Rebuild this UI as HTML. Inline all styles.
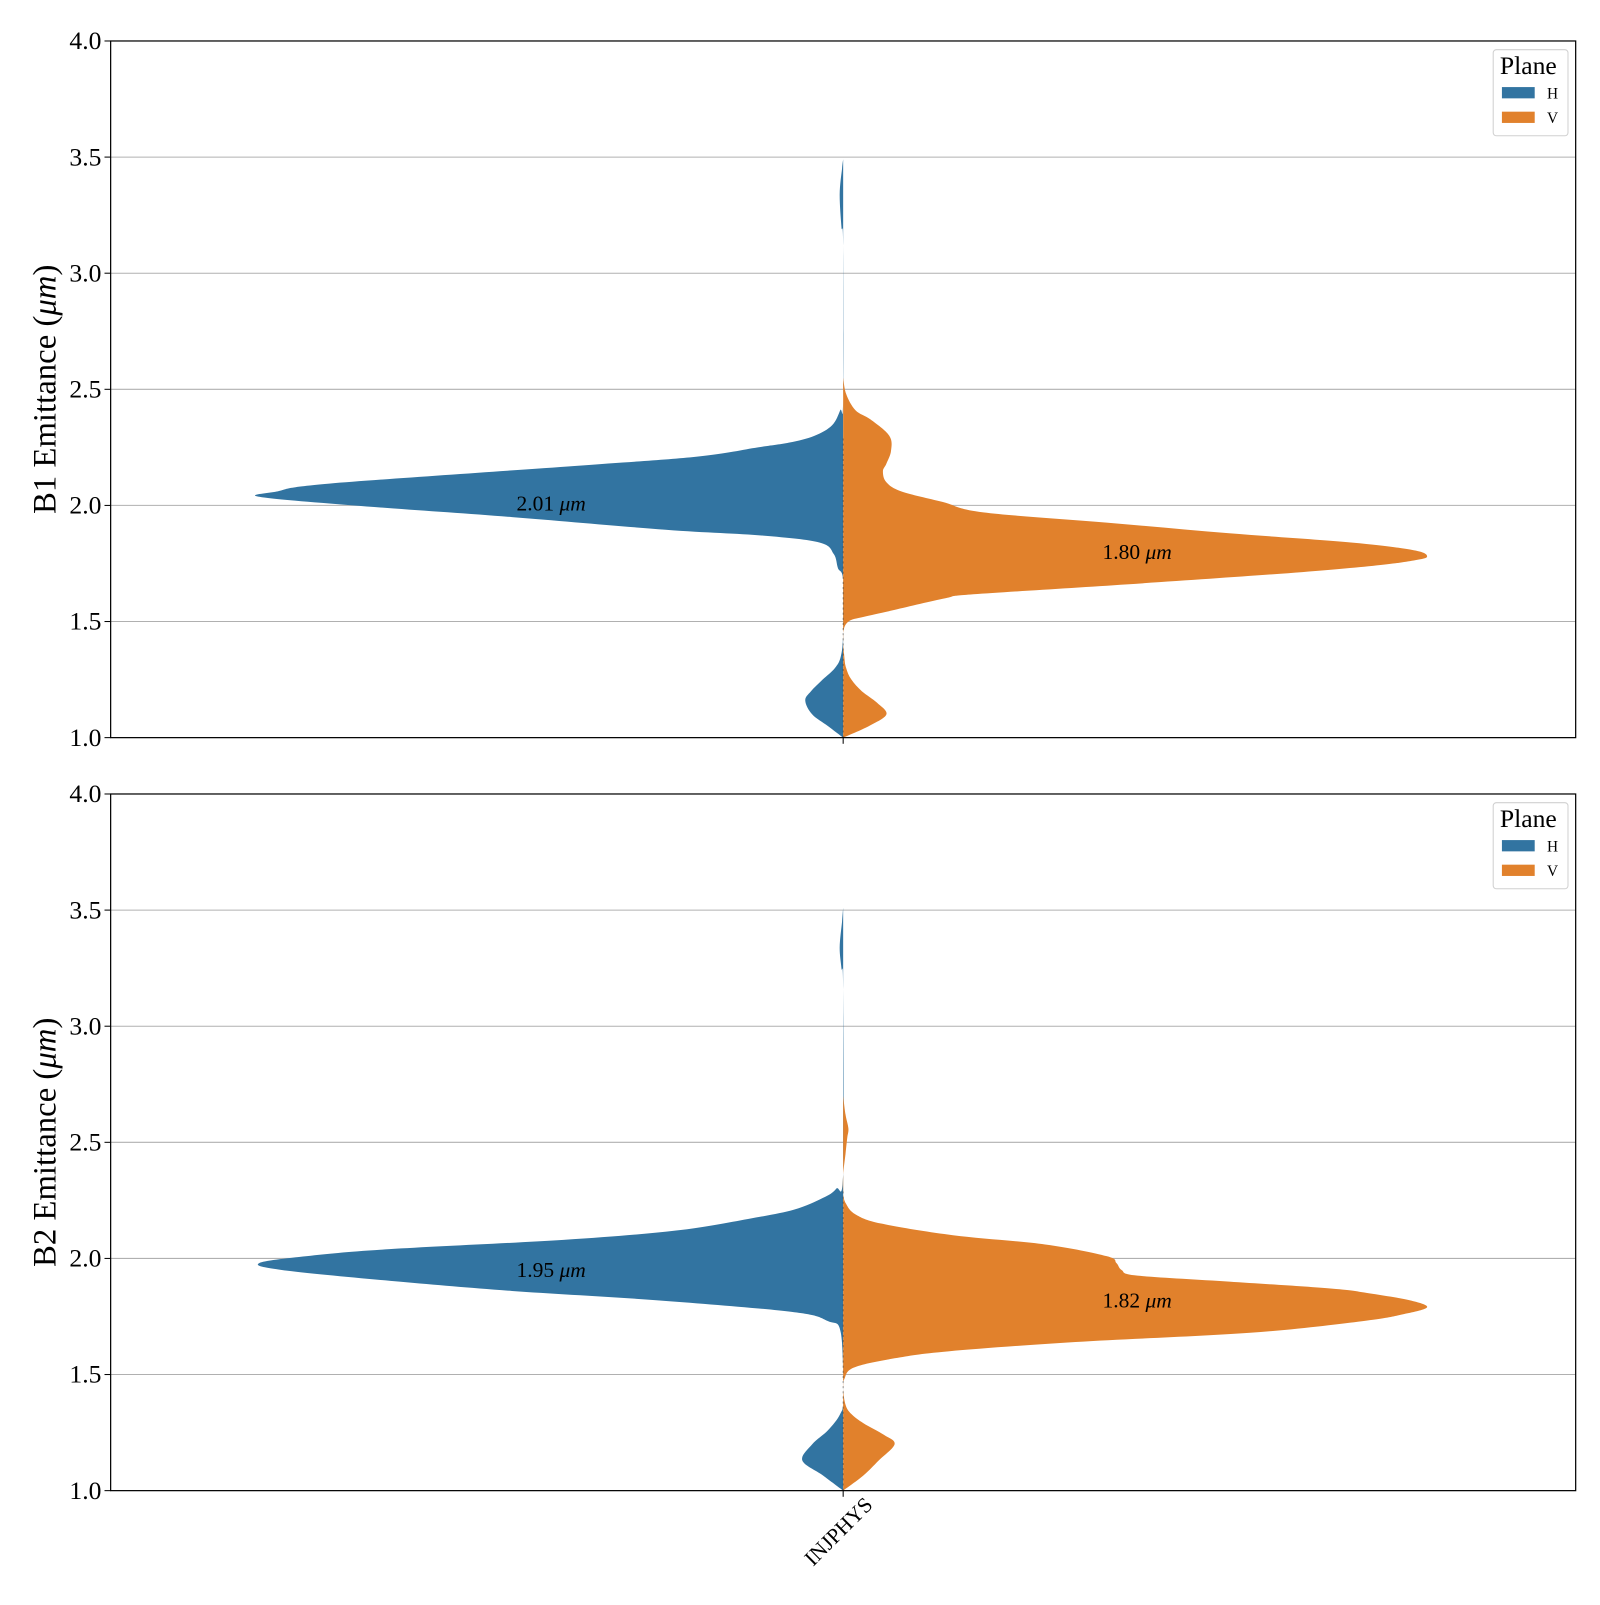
<!DOCTYPE html>
<html><head><meta charset="utf-8"><style>
body{margin:0;background:#fff}
svg text{font-family:"Liberation Serif","DejaVu Serif",serif}
</style></head><body>
<svg id="chart" width="1600" height="1600" viewBox="0 0 1600 1600" xmlns="http://www.w3.org/2000/svg"><g id="root" transform="scale(1.0245)"></g></svg>
<script>
// ---- data ----
const yTicks = [1.0, 1.5, 2.0, 2.5, 3.0, 3.5, 4.0];
const categories = ["INJPHYS"];
const panelNames = ["B1", "B2"];
const medianLabels = [["2.01", "1.80"], ["1.95", "1.82"]];
const medianValues = [[2.01, 1.80], [1.95, 1.82]];
// density profiles (value, relative density 0..100)
const b1H_y = [1.0,1.05,1.1,1.16,1.2,1.25,1.3,1.35,1.45,1.68,1.73,1.79,1.84,1.87,1.895,1.95,2.0,2.037,2.06,2.094,2.17,2.21,2.25,2.27,2.30,2.345,2.41,2.455,3.12,3.2,3.34,3.45,3.49];
const b1H_d = [0,2.6,5.3,6.5,5.5,3.5,1.4,0.4,0,0,0.9,1.6,4,13.7,30.4,56.7,84,100,97,88,46,25,14.6,9.3,4.9,1.9,0.5,0,0,0.3,0.6,0.2,0];
const b1V_y = [1.0,1.05,1.1,1.15,1.2,1.25,1.3,1.35,1.45,1.5,1.52,1.55,1.6,1.617,1.66,1.706,1.74,1.763,1.78,1.807,1.84,1.88,1.926,1.97,2.015,2.06,2.10,2.147,2.18,2.235,2.30,2.37,2.41,2.48,2.55];
const b1V_d = [0,4.4,7.4,5.8,3.2,1.4,0.5,0.2,0,0.9,3.5,8.8,17.5,22.3,48.6,74.9,90.7,97.7,100,97.7,87.2,66.1,45.1,24,17,10,7.4,6.8,7.4,8.2,7.9,4.7,2.1,0.5,0];
const b2H_y = [1.0,1.066,1.13,1.2,1.26,1.33,1.4,1.68,1.73,1.77,1.82,1.86,1.90,1.95,1.98,2.01,2.04,2.08,2.12,2.17,2.21,2.26,2.30,2.37,3.16,3.25,3.34,3.45,3.51];
const b2H_d = [0,3.5,7,5.3,2.6,0.5,0,0.4,2.6,8.8,32,56.7,76,96,100,91.8,77.7,47.9,28.6,16.3,8.4,3.5,1.2,0,0,0.3,0.6,0.2,0];
const b2V_y = [1.0,1.066,1.13,1.2,1.24,1.29,1.33,1.37,1.44,1.48,1.53,1.57,1.60,1.64,1.68,1.73,1.76,1.79,1.82,1.85,1.87,1.90,1.926,1.95,1.98,2.01,2.06,2.10,2.15,2.19,2.235,2.28,2.36,2.45,2.52,2.56,2.62,2.7];
const b2V_d = [0,3.5,6.1,8.8,7,3.5,1.4,0.4,0,0.2,1.8,8.8,18,39.8,69.7,89,96,100,97,90,83.7,66.1,50.4,47.7,46.8,45.1,34.6,18.8,6.5,2.1,0.5,0,0,0.4,0.7,0.9,0.4,0];
const panels = [
  {h:[b1H_y,b1H_d], v:[b1V_y,b1V_d]},
  {h:[b2H_y,b2H_d], v:[b2V_y,b2V_d]}
];
// ---- layout ----
const NS="http://www.w3.org/2000/svg";
const svg=document.getElementById('root');
const X0=108,X1=1538,CX=823,MAXW=570;
const tops=[40,775],PH=680;
function mk(tag,attrs,parent){const e=document.createElementNS(NS,tag);for(const k in attrs)e.setAttribute(k,attrs[k]);(parent||svg).appendChild(e);return e;}
function smooth(pts){let d=`M${pts[0][0]},${pts[0][1]}`;for(let i=0;i<pts.length-1;i++){const p0=pts[Math.max(0,i-1)],p1=pts[i],p2=pts[i+1],p3=pts[Math.min(pts.length-1,i+2)];const c1=[p1[0]+(p2[0]-p0[0])/6,p1[1]+(p2[1]-p0[1])/6],c2=[p2[0]-(p3[0]-p1[0])/6,p2[1]-(p3[1]-p1[1])/6];d+=`C${c1[0].toFixed(1)},${c1[1].toFixed(1)} ${c2[0].toFixed(1)},${c2[1].toFixed(1)} ${p2[0].toFixed(1)},${p2[1].toFixed(1)}`;}return d;}
panels.forEach((p,pi)=>{
  const top=tops[pi],bot=top+PH;
  const yS=v=>bot-(v-1)/3*PH;
  const xS=d=>d/100*MAXW;
  const g=mk('g',{});
  
  
  yTicks.forEach(t=>{
    if(t>1&&t<4){const gl=mk('line',{x1:X0,x2:X1,y1:yS(t),y2:yS(t),stroke:'#b0b0b0','stroke-width':1},g);
      }
    const tk=mk('line',{x1:X0-6,x2:X0,y1:yS(t),y2:yS(t),stroke:'#000','stroke-width':1},g);
    
    const tl=mk('text',{x:X0-9,y:yS(t)+8,'text-anchor':'end','font-size':25},g);tl.textContent=t.toFixed(1);
    
  });
  [['h',-1,'#3274a1'],['v',1,'#e1812c']].forEach(([k,s,c])=>{
    const [ys,ds]=p[k];
    const pts=ys.map((v,i)=>[CX+s*xS(ds[i]),yS(v)]);
    const d=smooth(pts)+`L${CX},${yS(ys[ys.length-1])}L${CX},${yS(ys[0])}Z`;
    const path=mk('path',{d,fill:c,stroke:'none'},g);
    
    
  });
  const ml=mk('line',{x1:CX,x2:CX,y1:yS(1.0),y2:yS(2.3),stroke:'#333','stroke-width':1,'stroke-dasharray':'2,3',opacity:0.5},g);
  
  const ax=[538,1110];
  [0,1].forEach(j=>{
    const t=mk('text',{x:ax[j],y:yS(medianValues[pi][j])+7,'text-anchor':'middle','font-size':21},g);
    t.innerHTML=`${medianLabels[pi][j]} <tspan font-style="italic">μm</tspan>`;
    
  });
  const fr=mk('rect',{x:X0,y:top,width:X1-X0,height:PH,fill:'none',stroke:'#000','stroke-width':1.2},g);
  
  const xt=mk('line',{x1:CX,x2:CX,y1:bot,y2:bot+6,stroke:'#000'},g);
  
  const yl=mk('text',{transform:`translate(54,${top+PH/2}) rotate(-90)`,'text-anchor':'middle','font-size':32},g);
  yl.innerHTML=`${panelNames[pi]} Emittance (<tspan font-style="italic">μm</tspan>)`;
  
  // legend
  const lg=mk('g',{},g);
  
  mk('rect',{x:1457.5,y:top+8.5,width:73,height:84,rx:3,fill:'#fff',stroke:'#d0d0d0'},lg);
  const lt=mk('text',{x:1464,y:top+32,'font-size':25},lg);lt.textContent='Plane';
  
  [['H','#3274a1'],['V','#e1812c']].forEach(([n,c],i)=>{
    const e=mk('g',{},lg);
    
    
    mk('rect',{x:1466,y:top+45+i*24,width:32,height:11,fill:c},e);
    const tx=mk('text',{x:1510,y:top+56+i*24,'font-size':15},e);tx.textContent=n;
  });
});
categories.forEach(c=>{
  const t=mk('text',{transform:`translate(${CX+30},1470) rotate(-45)`,'text-anchor':'end','font-size':21});
  t.textContent=c;
  
});
</script>
</body></html>
